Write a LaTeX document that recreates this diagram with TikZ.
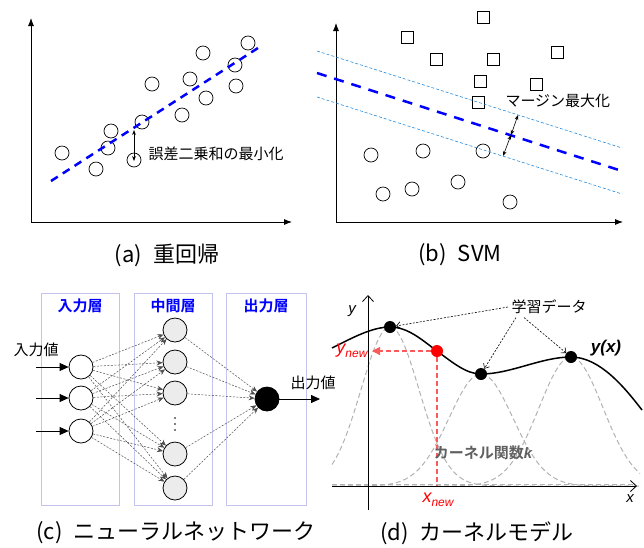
\documentclass[tikz,border=0pt]{standalone}
\usepackage{fontspec}
\setmainfont{Noto Sans CJK JP}[BoldFont={Noto Sans CJK JP Bold}]
\newfontfamily\lsans{Liberation Sans}
\usetikzlibrary{arrows.meta}
\definecolor{marginblue}{RGB}{40,140,220}
\definecolor{layerline}{RGB}{195,195,240}
\definecolor{redline}{RGB}{250,90,90}
\tikzset{
  axis/.style={line width=0.8pt,{Latex[length=8pt,width=6pt]}-{Latex[length=8pt,width=6pt]}},
  lbl/.style={font=\fontsize{15}{17}\selectfont},
  captxt/.style={font=\fontsize{22}{26}\selectfont},
  neuron/.style={circle,draw,line width=0.8pt,minimum size=24pt,inner sep=0pt},
  conn/.style={gray!60!black,line width=0.5pt,dash pattern=on 2pt off 1.5pt,-{Stealth[length=6pt,width=5pt]}},
  datapt/.style={circle,fill=black,minimum size=12pt,inner sep=0pt},
}
\begin{document}
\begin{tikzpicture}[x=1pt,y=-1pt]
\useasboundingbox (0,0) rectangle (644,547);
% (a) 重回帰
\draw[axis] (31,18) -- (31,222) -- (292,222);
\foreach \x/\y in {62/153,96/169,108/148,111/131,134/160,142/122,152/84,182/115,190/79,203/53,206/98,235/65,236/86,248/43}
  \draw[line width=0.7pt] (\x,\y) circle (7pt);
\draw[blue,line width=2.5pt,dash pattern=on 8pt off 6pt] (51,181) -- (258,48);
\draw[line width=0.7pt,{Stealth[length=5pt]}-{Stealth[length=5pt]}] (134,130) -- (134,161);
\node[lbl,anchor=west] (errlbl) at (145,154) {誤差二乗和の最小化};
\node[captxt] (capa) at (167,255) {(a)\hspace{0.5em}重回帰};
% (b) SVM
\draw[axis] (336,23) -- (336,222) -- (623,222);
\foreach \x/\y in {407/37,483/17,436/59,493/59,557/52,480/81,536/84,478/102}
  \draw[line width=0.7pt] (\x-6,\y-6) rectangle (\x+6,\y+6);
\foreach \x/\y in {371/155,423/151,483/151,383/194,412/189,458/182,510/202}
  \draw[line width=0.7pt] (\x,\y) circle (7pt);
\draw[marginblue,line width=0.6pt,dash pattern=on 3pt off 2pt] (317,51) -- (622,148);
\draw[marginblue,line width=0.6pt,dash pattern=on 3pt off 2pt] (317,97) -- (622,194);
\draw[blue,line width=2.5pt,dash pattern=on 10pt off 8pt] (317,73) -- (622,171);
\draw[line width=0.6pt,{Stealth[length=5pt]}-{Stealth[length=5pt]}] (518,115) -- (511,135);
\draw[line width=0.6pt,{Stealth[length=5pt]}-{Stealth[length=5pt]}] (511,135) -- (503,156);
\node[lbl,anchor=west] (marginlbl) at (502,101) {マージン最大化};
\node[captxt] (capb) at (460,255) {(b)\hspace{0.5em}SVM};
% (c) ニューラルネットワーク
\foreach \l/\r in {41/119,134/212,226/306}
  \draw[layerline,line width=0.7pt] (\l,293) rectangle (\r,505);
\node[lbl,blue,font=\fontsize{15}{17}\selectfont\bfseries] (t1) at (80,306) {入力層};
\node[lbl,blue,font=\fontsize{15}{17}\selectfont\bfseries] (t2) at (173,306) {中間層};
\node[lbl,blue,font=\fontsize{15}{17}\selectfont\bfseries] (t3) at (266,306) {出力層};
\foreach \i/\y in {1/367,2/398,3/431}
  \node[neuron,fill=white] (i\i) at (81,\y) {};
\foreach \h/\y in {1/330,2/362,3/393,4/454,5/488}
  \node[neuron,fill=gray!15] (h\h) at (175,\y) {};
\foreach \y in {418,424,430}
  \fill (175,\y) circle (0.9pt);
\node[neuron,fill=black] (o) at (267,399) {};
\foreach \i in {1,2,3}
  \foreach \h in {1,...,5}
    \draw[conn] (i\i) -- (h\h);
\foreach \h in {1,...,5}
  \draw[conn] (h\h) -- (o);
\foreach \i/\y in {1/367,2/398,3/431}{
  \coordinate (in\i) at (36,\y);
  \draw[line width=0.8pt,-{Triangle[length=9pt,width=8pt]}] (in\i) -- (i\i);
}
\node[lbl] (inlbl) at (36,350) {入力値};
\coordinate (outend) at (320,399);
\draw[line width=0.8pt,-{Triangle[length=9pt,width=8pt]}] (o) -- (outend);
\node[lbl] (outlbl) at (313,383) {出力値};
\node[captxt] (capc) at (176,533) {(c)\hspace{0.5em}ニューラルネットワーク};
% (d) カーネルモデル
\draw[gray!60,line width=1pt,dash pattern=on 5pt off 3pt] (332,484) -- (634,484);
\foreach \c/\h/\s in {390/159/29,481/112/32,571/129/32}
  \draw[gray!60,line width=1pt,dash pattern=on 5pt off 3pt]
    plot[domain=332:640,samples=120] (\x,{486-\h*exp(-0.5*((\x-\c)/\s)^2)});
\draw[line width=0.8pt,-{Straight Barb[length=6pt,width=11pt]}] (332,486) -- (637,486);
\draw[line width=0.8pt,-{Straight Barb[length=6pt,width=11pt]}] (368,510) -- (368,295);
\node[font=\fontsize{15}{17}\selectfont\lsans\itshape] (ylbl) at (352,311) {y};
\node[font=\fontsize{15}{17}\selectfont\lsans\itshape] (xlbl) at (630,499) {x};
\draw[line width=1.5pt] (332,348) .. controls (352,338) and (372,327) .. (390,327)
  .. controls (408,327) and (422,340) .. (437,351)
  .. controls (452,362) and (466,374) .. (481,374)
  .. controls (511,374) and (541,357) .. (571,357)
  .. controls (600,357) and (625,388) .. (642,410);
\node[datapt] (d1) at (390,327) {};
\node[datapt] (d2) at (481,374) {};
\node[datapt] (d3) at (571,357) {};
\node[circle,fill=red,minimum size=12pt,inner sep=0pt] (np) at (437,351) {};
\coordinate (xnew) at (437,486);
\coordinate (ynew) at (372,351);
\draw[redline,line width=1.2pt,dash pattern=on 5pt off 3pt] (np) -- (xnew);
\draw[redline,line width=1.2pt,dash pattern=on 5pt off 3pt,-{Triangle[length=8pt,width=8pt]}] (np) -- (ynew);
\node[red,font=\fontsize{18}{20}\selectfont\lsans\itshape] (ynewlbl) at (352,351) {y\raisebox{-4pt}{\fontsize{12}{12}\selectfont new}};
\node[red,font=\fontsize{18}{20}\selectfont\lsans\itshape] (xnewlbl) at (438,500) {x\raisebox{-4pt}{\fontsize{12}{12}\selectfont new}};
\node[font=\fontsize{17}{19}\selectfont\lsans\bfseries\itshape] (yx) at (606,348) {y(x)};
\node[lbl] (learn) at (549,307) {学習データ};
\draw[line width=0.6pt,dash pattern=on 2pt off 1.5pt,-{Straight Barb[length=4pt,width=7pt]}] (learn.west) -- (d1);
\draw[line width=0.6pt,dash pattern=on 2pt off 1.5pt,-{Straight Barb[length=4pt,width=7pt]}] ([xshift=8pt]learn.south west) -- (d2);
\draw[line width=0.6pt,dash pattern=on 2pt off 1.5pt,-{Straight Barb[length=4pt,width=7pt]}] ([xshift=16pt]learn.south west) -- (d3);
\node[gray!75!black,font=\fontsize{15}{17}\selectfont\bfseries] (kern) at (483,453) {カーネル関数{\lsans\itshape k}};
\node[captxt] (capd) at (477,533) {(d)\hspace{0.5em}カーネルモデル};
\end{tikzpicture}
\end{document}
